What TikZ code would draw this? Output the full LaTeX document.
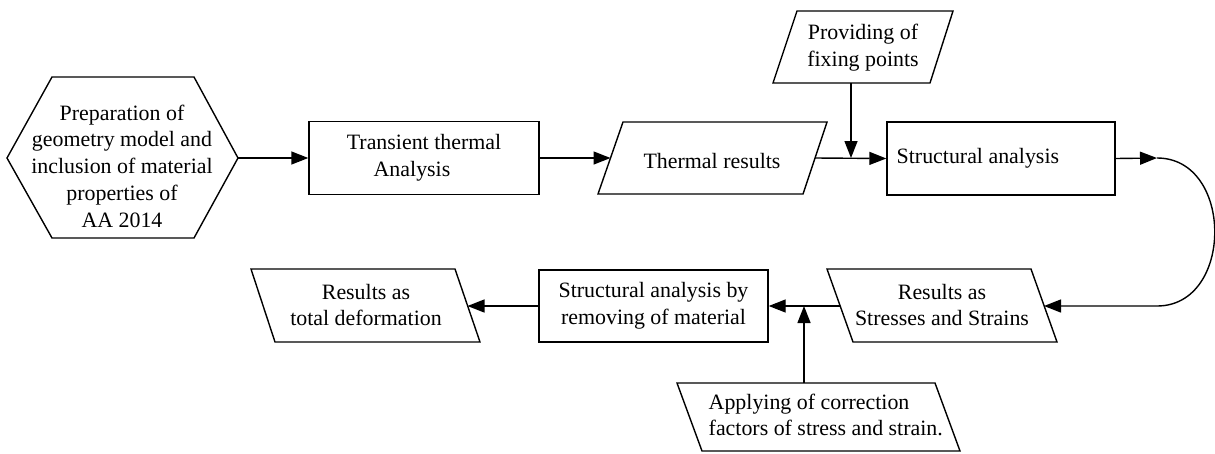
\documentclass[tikz,border=0pt]{standalone}
\usepackage{fontspec}
\setmainfont{Liberation Serif}
\usetikzlibrary{arrows.meta}
\newcommand{\dfont}{\fontsize{21.9}{26.7}\selectfont}
\begin{document}
\begin{tikzpicture}[x=1pt,y=-1pt,line width=1.4pt,
  >={Triangle[length=17pt,width=13pt]},
  txt/.style={align=center,font=\dfont,inner sep=0pt},
  ltxt/.style={align=left,font=\dfont,inner sep=0pt,anchor=west},
  boxnode/.style={draw,rectangle,inner sep=0pt}]
\useasboundingbox (0,0) rectangle (1215,453);
% hexagon
\draw (7,158) -- (52,77) -- (194,77) -- (238,158) -- (194,238) -- (52,238) -- cycle;
\node[txt] (hext) at (122,166) {Preparation of\\geometry model and\\inclusion of material\\properties of\\AA 2014};
\coordinate (hexR) at (238,158);
% transient thermal analysis
\node[boxnode,minimum width=230pt,minimum height=73pt] (tta) at (424,158) {};
\node[txt] (ttat) at (424,158) {Transient thermal\\Analysis\hspace*{24pt}};
% thermal results
\draw (623,122) -- (827,122) -- (803,194) -- (598,194) -- cycle;
\node[txt] (tht) at (712,161) {Thermal results};
\coordinate (thL) at (610.5,158);
\coordinate (thR) at (815,158);
% providing of fixing points
\draw (797,11) -- (953,11) -- (930,83) -- (773,83) -- cycle;
\node[txt] (pft) at (863,48) {Providing of\\fixing points};
\coordinate (pfB) at (851,83);
\coordinate (j1) at (851,158);
% structural analysis
\node[boxnode,minimum width=228pt,minimum height=73pt] (sa) at (1001,158.5) {};
\node[ltxt] (sat) at (896,158) {Structural analysis};
\coordinate (c1) at (1157,158);
\coordinate (c2) at (1157,306);
% results stresses strains
\draw (827,269) -- (1031,269) -- (1057,342) -- (853,342) -- cycle;
\node[txt] (rst) at (942,305) {Results as\\Stresses and Strains};
\coordinate (rsR) at (1044,306);
\coordinate (rsL) at (840,306);
% structural analysis by removing
\node[boxnode,minimum width=229pt,minimum height=72pt] (rm) at (653.5,306) {};
\node[txt] (rmt) at (653.5,306) {Structural analysis by\\removing of material};
% applying correction factors
\draw (677,383) -- (935,383) -- (960,451) -- (702,451) -- cycle;
\node[ltxt] (apt) at (708,415) {Applying of correction\\factors of stress and strain.};
\coordinate (apT) at (804,383);
\coordinate (j2) at (804,306);
% total deformation
\draw (251,269) -- (455,269) -- (480,342) -- (275,342) -- cycle;
\node[txt] (tdt) at (366,305) {Results as\\total deformation};
\coordinate (tdR) at (467.5,306);
% connectors
\draw[->] (hexR) -- (tta.west);
\draw[->] (tta.east) -- (thL);
\draw[->] (thR) -- (sa.west);
\draw[->] (pfB) -- (j1);
\draw[->] (sa.east) -- (c1);
\draw[->] (c1) .. controls (1234,158) and (1234,306) .. (c2) -- (rsR);
\draw[->] (rsL) -- (rm.east);
\draw[->] (apT) -- (j2);
\draw[->] (rm.west) -- (tdR);
\end{tikzpicture}
\end{document}
